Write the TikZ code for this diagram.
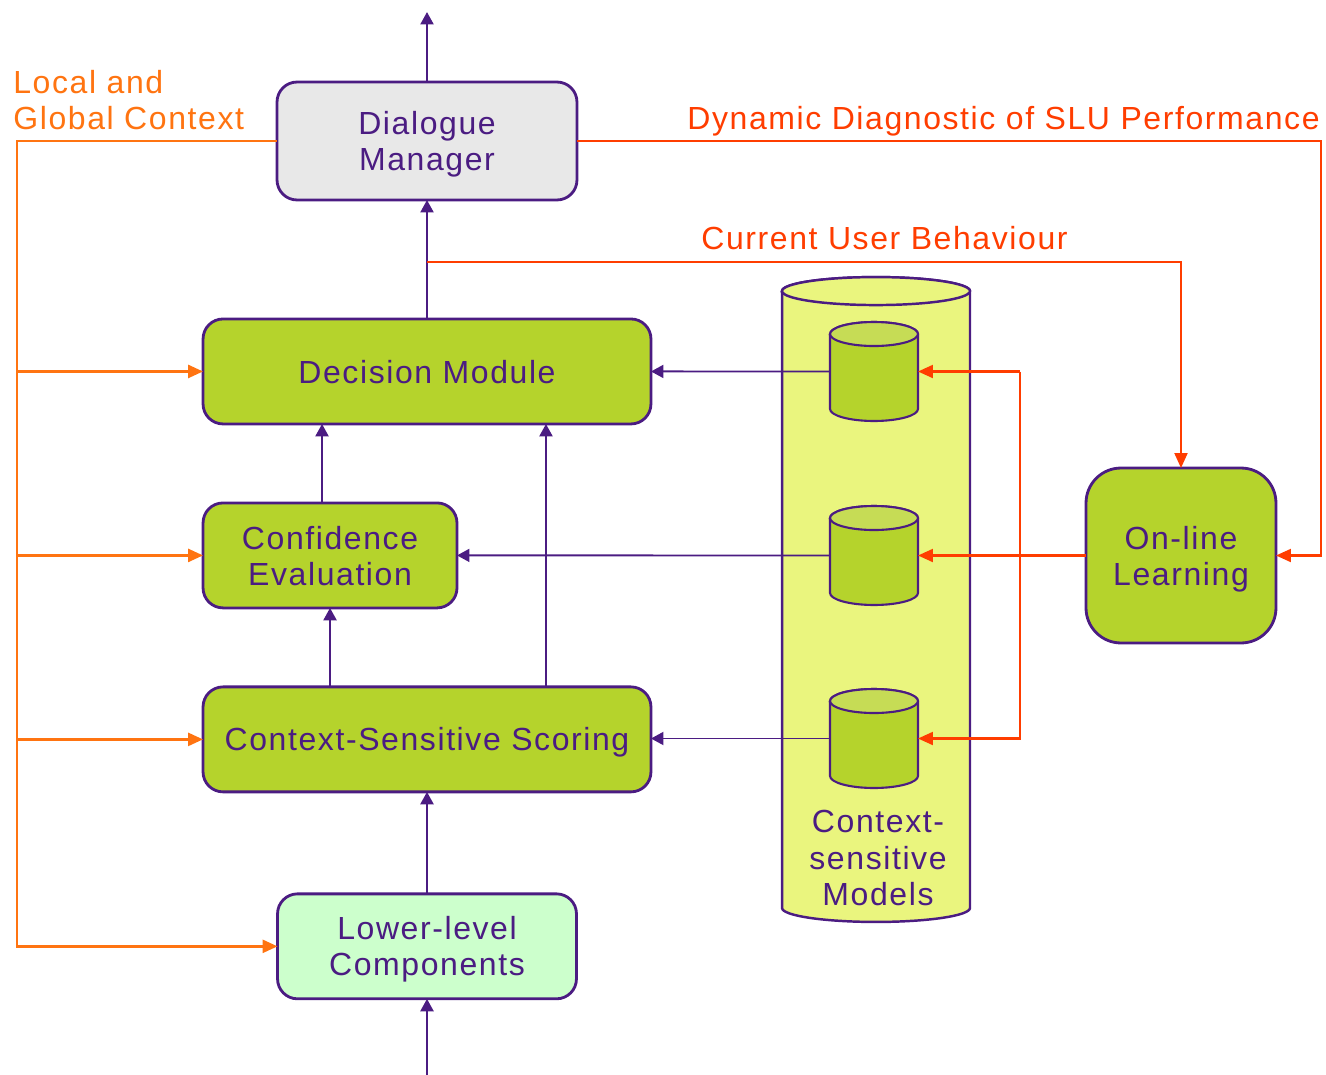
\documentclass[tikz,border=0pt]{standalone}
\usepackage{fontspec}
\setmainfont{Liberation Sans}[LetterSpace=5]
\usetikzlibrary{positioning,arrows.meta}
\definecolor{dlgpurple}{HTML}{4B1C82}
\definecolor{modgreen}{HTML}{B5D32C}
\definecolor{modtop}{HTML}{C6DC55}
\definecolor{storeyellow}{HTML}{EAF57E}
\definecolor{lowgreen}{HTML}{CCFFCC}
\definecolor{dlggray}{HTML}{E8E8E8}
\definecolor{ctxorange}{HTML}{FF7411}
\definecolor{fbred}{HTML}{FF3D00}
\tikzset{txt/.style={font=\fontsize{18.2}{20.5}\selectfont}}
\tikzset{module/.style={txt,rectangle,rounded corners=0.4cm,draw=dlgpurple,fill=modgreen,line width=1.6pt,outer sep=0pt,text=dlgpurple,align=center,text depth=0pt,minimum height=2.1cm}}
\tikzset{dlgbox/.style={module,fill=dlggray,minimum width=6cm,minimum height=2.36cm}}
\tikzset{lowbox/.style={module,fill=lowgreen,minimum width=5.98cm}}
\tikzset{learnbox/.style={module,rounded corners=0.7cm,minimum width=3.8cm,minimum height=3.5cm}}
\tikzset{storebody/.style={rectangle,inner sep=0pt,outer sep=0pt,minimum width=3.76cm,minimum height=12.34cm}}
\tikzset{modelbody/.style={rectangle,inner sep=0pt,outer sep=0pt,minimum width=1.76cm,minimum height=1.5cm}}
\tikzset{flow/.style={-{Triangle[length=0.25cm,width=0.26cm]},line width=1.4pt,draw=dlgpurple}}
\tikzset{feed/.style={-{Triangle[length=0.3cm,width=0.26cm]},line width=1.2pt,draw=fbred}}
\tikzset{ctx/.style={-{Triangle[length=0.3cm,width=0.26cm]},line width=1.5pt,draw=ctxorange}}
% cylinder round a body node: node, x radius, y radius, body fill, end fill
\newcommand{\drawcyl}[5]{%
  \filldraw[fill=#4] (#1.north west) -- (#1.south west) arc[start angle=180,end angle=360,x radius=#2,y radius=#3] -- (#1.north east) arc[start angle=0,end angle=180,x radius=#2,y radius=#3] -- cycle;
  \filldraw[fill=#5] (#1.north) ellipse[x radius=#2,y radius=#3];
}
\begin{document}
\begin{tikzpicture}[x=0.02cm,y=-0.02cm]
\useasboundingbox (0,0) rectangle (1326,1075);
% main column
\node (dm) [dlgbox] at (427,141) {Dialogue\\Manager} ;
\node (dec) [module, minimum width=8.96cm, below=2.38cm of dm] {Decision Module} ;
\node (conf) [module, minimum width=5.08cm, below right=1.58cm and 0cm of dec.south west] {Confidence\\Evaluation} ;
\node (css) [module, minimum width=8.96cm, below=5.26cm of dec] {Context-Sensitive Scoring} ;
\node (low) [lowbox, below=2.04cm of css] {Lower-level\\Components} ;
\node (onl) [learnbox] at (1181,555.5) {On-line\\Learning} ;
% model store
\node (store) [storebody] at (876,599.5) {} ;
\node (m1) [modelbody] at (874,371.5) {} ;
\node (m2) [modelbody] at (874,555.5) {} ;
\node (m3) [modelbody] at (874,738.5) {} ;
\begin{scope}[draw=dlgpurple,line width=1.4pt]
\drawcyl{store}{1.88cm}{0.28cm}{storeyellow}{storeyellow}
\end{scope}
\begin{scope}[draw=dlgpurple,line width=1.2pt]
\drawcyl{m1}{0.88cm}{0.24cm}{modgreen}{modtop}
\drawcyl{m2}{0.88cm}{0.24cm}{modgreen}{modtop}
\drawcyl{m3}{0.88cm}{0.24cm}{modgreen}{modtop}
\end{scope}
\node (storelbl) [txt, text=dlgpurple, align=center] at (878,858) {Context-\\sensitive\\Models} ;
% labels
\node (ctxlbl) [txt, text=ctxorange, align=left, anchor=west, inner sep=0pt] at (13,100) {Local and\\Global Context} ;
\node (diaglbl) [txt, text=fbred, anchor=base east, inner sep=0pt] at (1320,129) {Dynamic Diagnostic of SLU Performance} ;
\node (usrlbl) [txt, text=fbred, anchor=base west, inner sep=0pt] at (701,249) {Current User Behaviour} ;
\coordinate (sysout) at (427,12);
\coordinate (sysin) at (427,1075);
\coordinate (ctxbus) at (17,141);
\coordinate (usrtap) at (427,262);
\coordinate (diagbus) at (1321,141);
\coordinate (modbus) at (1020,552);
% purple flow
\draw[flow] (dm.north) -- (sysout);
\draw[flow] (sysin) -- (low.south);
\draw[flow] (low.north) -- (css.south);
\draw[flow] (css.north -| conf) -- (conf.south);
\draw[flow] ([xshift=2.38cm]css.north) -- ([xshift=2.38cm]dec.south);
\draw[flow] ([xshift=-0.16cm]conf.north) -- ([xshift=-0.16cm]conf.north |- dec.south);
\draw[flow] (dec.north) -- (dm.south);
\draw[flow, line width=1.1pt] (m1.west) -- (dec.east);
\draw[flow, line width=1.1pt] (m2.west) -- (conf.east);
\draw[flow, line width=1.1pt] (m3.west) -- (m3.west -| css.east);
% feedback
\draw[feed] (dm.east) -- (diagbus) |- (onl.east);
\draw[feed] (usrtap) -| (onl.north);
\draw[feed] (onl.west) -- (m2.east);
\draw[feed] (modbus |- m1) -- (m1.east);
\draw[feed] (modbus |- m1) -- (modbus |- m3) -- (m3.east);
% context
\draw[ctx] (dm.west) -- (ctxbus) |- (low.west);
\draw[ctx] (ctxbus |- dec.west) -- (dec.west);
\draw[ctx] (ctxbus |- conf.west) -- (conf.west);
\draw[ctx] (ctxbus |- css.west) -- (css.west);
\end{tikzpicture}
\end{document}
